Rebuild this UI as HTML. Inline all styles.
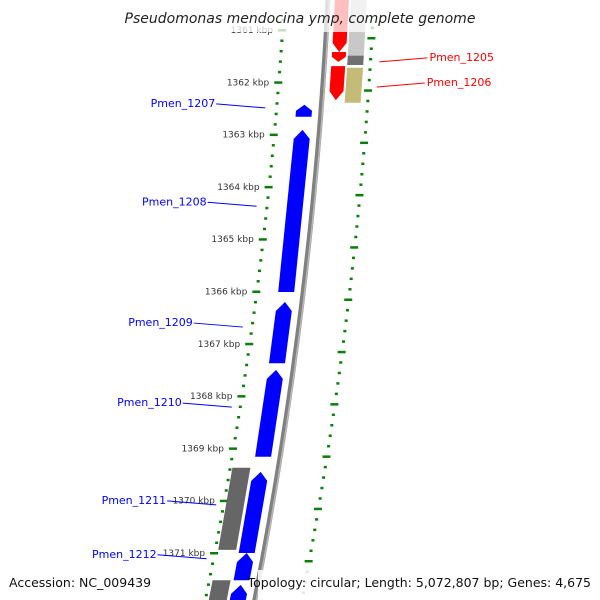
<!DOCTYPE html>
<html><head><meta charset="utf-8"><style>
body{margin:0;background:#fff}
svg{display:block;font-family:"DejaVu Sans","Liberation Sans",sans-serif}
</style></head><body>
<svg id="map" width="600" height="600" viewBox="0 0 600 600"></svg>
<script>
const tickKbp=[1361,1362,1363,1364,1365,1366,1367,1368,1369,1370,1371];
const fwdStart=[1362.43,1362.91,1366.20,1367.50,1369.45,1371.00,1371.61];
const fwdEnd=[1362.66,1366.01,1367.37,1369.16,1371.00,1371.52,1372.2];
const fwdNames=["Pmen_1207","Pmen_1208","Pmen_1209","Pmen_1210","Pmen_1211","Pmen_1212",""];
const fwdLabelKbp=[1362.49,1364.37,1366.68,1368.21,1370.08,1371.11,0];
const grayStart=[1369.37,1371.52];
const grayEnd=[1370.94,1372.2];
const revStart=[1360.2,1361.42,1361.69];
const revEnd=[1361.42,1361.61,1362.34];
const otherStart=[1360.2,1361.49,1361.72];
const otherEnd=[1361.49,1361.67,1362.39];
const otherColors=["#c8c8c8","#707070","#c4bb78"];

const svgEl=document.getElementById('map');
const NS='http://www.w3.org/2000/svg';
function Y(k){return 30+(k-1361)*52.3;}
function bb(y){return 328-0.05*y-0.00012*y*y;}
function innerX(y){return bb(y)-44-0.01*y;}
function mk(t,a){const e=document.createElementNS(NS,t);for(const k in a)e.setAttribute(k,a[k]);svgEl.appendChild(e);return e;}

let d1='';
for(let y=-5;y<=605;y+=5){d1+=(y<0?'M':'L')+bb(y).toFixed(1)+' '+y+' ';}
const bp=mk('path',{d:d1,stroke:'#808080','stroke-width':5,fill:'none'});


const bp2=mk('path',{d:d1,stroke:'#b8b8b8','stroke-width':1.5,fill:'none',transform:'translate(1.5,0)'});



for(let k=1360.8;k<=1372.2;k+=0.2){
  const y=Y(k);
  const major=Math.abs(k-Math.round(k))<0.01;
  const xi=innerX(y), xo=bb(y)+45;
  const r1=mk('rect',{x:major?xi-4:xi-1,y:y-1,width:major?8:3,height:2.5,fill:'#0a7d0a'});
  
  
  const r2=mk('rect',{x:major?xo-4:xo-1,y:y+7,width:major?8:3,height:2.5,fill:'#0a7d0a'});
  
  
}
tickKbp.forEach(k=>{
  const y=Y(k);
  const t=mk('text',{x:innerX(y)-9,y:y+3,'font-size':9,'text-anchor':'end',fill:'#333'});
  t.textContent=k+' kbp';
  
  
});

function gene(k1,k2,o1,o2,fill,dir){
  const y1=Y(k1),y2=Y(k2),tip=Math.min(9,(y2-y1)*0.5);
  const L=y=>bb(y)+o1,R=y=>bb(y)+o2;
  let pts;
  if(dir>0){const c=(L(y1)+R(y1))/2;
    pts=[[L(y2),y2],[R(y2),y2],[R(y1+tip),y1+tip],[c,y1],[L(y1+tip),y1+tip]];}
  else if(dir<0){const c=(L(y2)+R(y2))/2;
    pts=[[L(y1),y1],[R(y1),y1],[R(y2-tip),y2-tip],[c,y2],[L(y2-tip),y2-tip]];}
  else pts=[[L(y1),y1],[R(y1),y1],[R(y2),y2],[L(y2),y2]];
  return mk('polygon',{points:pts.map(q=>q[0].toFixed(1)+','+q[1].toFixed(1)).join(' '),fill:fill});
}
function geneLabel(name,k,o,color,side){
  const y=Y(k),x=bb(y)+o;
  const lx=side<0?x-49:x+48, ly=y-4;
  const l=mk('line',{x1:x,y1:y,x2:lx,y2:ly,stroke:color,'stroke-width':1});
  
  
  const t=mk('text',{x:side<0?lx-1:lx+2,y:ly+3,'font-size':11,'text-anchor':side<0?'end':'start',fill:color});
  t.textContent=name;
  
  
}
grayStart.forEach((s,i)=>{const g=gene(s,grayEnd[i],-46,-28,'#666',0);
  
  });
fwdStart.forEach((s,i)=>{const g=gene(s,fwdEnd[i],-25,-9,'#0000ff',1);
  
  
  if(fwdNames[i])geneLabel(fwdNames[i],fwdLabelKbp[i],-56,'#0000ff',-1);});
revStart.forEach((s,i)=>{const g=gene(s,revEnd[i],7,21,'#ff0000',-1);
  
  });
otherStart.forEach((s,i)=>{const g=gene(s,otherEnd[i],23,39,otherColors[i],0);
  
  });
geneLabel('Pmen_1205',1361.61,55,'#ff0000',1);
geneLabel('Pmen_1206',1362.09,54,'#ff0000',1);

const band=mk('rect',{x:0,y:0,width:600,height:32,fill:'#fff','fill-opacity':0.75});


const titleEl=mk('text',{x:300,y:23,'font-size':14,'font-style':'italic','text-anchor':'middle',fill:'#222'});
titleEl.textContent='Pseudomonas mendocina ymp, complete genome';


const footBg=mk('rect',{x:258,y:570,width:342,height:30,fill:'#fff','fill-opacity':0.85});


const accLabel=mk('text',{x:9,y:587,'font-size':12.5,fill:'#111'});
accLabel.textContent='Accession: NC_009439';


const topoLabel=mk('text',{x:591,y:587,'font-size':12.5,'text-anchor':'end',fill:'#111'});
topoLabel.textContent='Topology: circular; Length: 5,072,807 bp; Genes: 4,675';


</script>
</body></html>
